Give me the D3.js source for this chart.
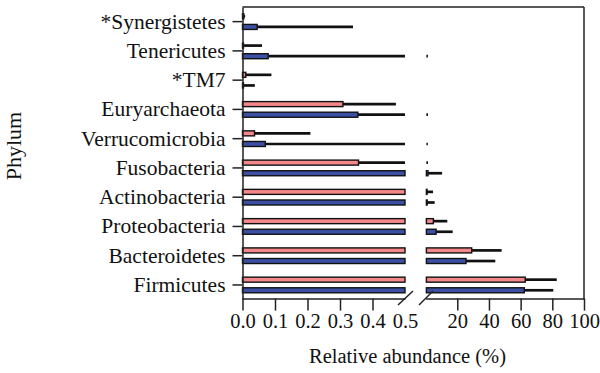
<!DOCTYPE html>
<html>
<head>
<meta charset="utf-8">
<script src="https://cdn.jsdelivr.net/npm/d3@7"></script>
<style>
  html, body { margin: 0; padding: 0; background: #fff; }
  svg text { font-family: "Liberation Serif", "DejaVu Serif", serif; fill: #111; }
</style>
</head>
<body>
<svg id="chart" width="600" height="373"></svg>
<script>
// ---- data (top to bottom) ----
const categories = ["*Synergistetes", "Tenericutes", "*TM7", "Euryarchaeota", "Verrucomicrobia",
                    "Fusobacteria", "Actinobacteria", "Proteobacteria", "Bacteroidetes", "Firmicutes"];
const series = ["groupA", "groupB"];
const seriesColors = ["#f4878a", "#3b50a4"];
const groupAMean = [0.004, 0.003, 0.010, 0.309, 0.037, 0.357, 0.9, 4.9, 29.1, 62.9];
const groupASd   = [0.004, 0.057, 0.079, 0.163, 0.172, 1.14, 3.8, 8.8, 18.9, 19.9];
const groupBMean = [0.045, 0.079, 0.003, 0.355, 0.070, 1.5, 1.0, 6.6, 25.5, 62.3];
const groupBSd   = [0.295, 1.4, 0.035, 1.15, 1.35, 8.9, 4.7, 10.5, 18.5, 18.3];
const leftTicks = [0, 0.1, 0.2, 0.3, 0.4, 0.5];
const rightTicks = [20, 40, 60, 80, 100];
const breakValue = 0.5;

const rows = [];
categories.forEach((c, i) => {
  rows.push({cat: c, s: series[0], mean: groupAMean[i], sd: groupASd[i], color: seriesColors[0]});
  rows.push({cat: c, s: series[1], mean: groupBMean[i], sd: groupBSd[i], color: seriesColors[1]});
});

const svg = d3.select("#chart");
const yTop = 7, yBottom = 299.6;
const xL = d3.scaleLinear().domain([0, breakValue]).range([242.5, 405]);
const xR = d3.scaleLinear().domain([0, 100]).range([425.6, 584]);
const y = d3.scaleBand().domain(categories).range([yTop, yBottom]);
const ySub = d3.scaleBand().domain(series).range([-11, 11]).paddingInner(0.528).paddingOuter(0.3);
const bh = ySub.bandwidth();
const yc = d => y(d.cat) + y.bandwidth() / 2 + ySub(d.s);

// bars, left panel
const gBars = svg.append("g");
gBars.selectAll("rect.left").data(rows).join("rect")
  .attr("class", "left")
  .attr("x", xL(0))
  .attr("y", d => yc(d))
  .attr("width", d => Math.max(0.6, xL(Math.min(d.mean, breakValue)) - xL(0)))
  .attr("height", bh)
  .attr("fill", d => d.color)
  .attr("stroke", "#111").attr("stroke-width", 1.4);

// bars, right panel
gBars.selectAll("rect.right").data(rows.filter(d => d.mean > breakValue)).join("rect")
  .attr("class", "right")
  .attr("x", xR(breakValue))
  .attr("y", d => yc(d))
  .attr("width", d => Math.max(0.6, xR(d.mean) - xR(breakValue)))
  .attr("height", bh)
  .attr("fill", d => d.color)
  .attr("stroke", "#111").attr("stroke-width", 1.4);

// error bars
const gErr = svg.append("g").attr("stroke", "#111").attr("stroke-width", 2.7);
rows.forEach(d => {
  const end = d.mean + d.sd;
  const cy = yc(d) + bh / 2;
  if (d.mean < breakValue) {
    gErr.append("line").attr("x1", xL(d.mean)).attr("x2", xL(Math.min(end, breakValue)))
      .attr("y1", cy).attr("y2", cy);
  }
  if (end > breakValue) {
    gErr.append("line").attr("x1", xR(Math.max(d.mean, breakValue))).attr("x2", xR(end))
      .attr("y1", cy).attr("y2", cy);
  }
});

// frame
const frame = svg.append("g").attr("stroke", "#222").attr("stroke-width", 1.5).attr("fill", "none");
frame.append("line").attr("x1", xL(0)).attr("x2", xR(100)).attr("y1", yTop).attr("y2", yTop);
frame.append("line").attr("x1", xR(100)).attr("x2", xR(100)).attr("y1", yTop).attr("y2", yBottom);

// axes
const axL = svg.append("g").attr("transform", `translate(0,${yBottom - 1})`)
  .call(d3.axisBottom(xL).tickValues(leftTicks).tickSize(12).tickSizeOuter(0).tickPadding(3)
    .tickFormat(d3.format(".1f")));
const axR = svg.append("g").attr("transform", `translate(0,${yBottom - 1})`)
  .call(d3.axisBottom(xR).tickValues(rightTicks).tickSize(12).tickSizeOuter(0).tickPadding(3));
axL.selectAll(".tick").filter(d => d === breakValue).select("line").remove();
const axY = svg.append("g").attr("transform", `translate(${xL(0)},0)`)
  .call(d3.axisLeft(y).tickSize(10).tickSizeOuter(0).tickPadding(7));
[axL, axR, axY].forEach(a => {
  a.selectAll("path, line").attr("stroke", "#222").attr("stroke-width", 1.5);
  a.selectAll("text").style("font-family", "'Liberation Serif', serif").attr("fill", "#111");
});
axL.selectAll("text").style("font-size", "20.5px");
axR.selectAll("text").style("font-size", "20.5px");
axY.selectAll("text").style("font-size", "21.5px");

// break marks
const gBreak = svg.append("g").attr("stroke", "#222").attr("stroke-width", 1.5);
gBreak.append("line").attr("x1", 398).attr("y1", 305).attr("x2", 413).attr("y2", 291);
gBreak.append("line").attr("x1", 419).attr("y1", 305).attr("x2", 433).attr("y2", 291);

// titles
svg.append("text").attr("x", 407.5).attr("y", 363).attr("text-anchor", "middle")
  .style("font-size", "20.5px").text("Relative abundance (%)");
svg.append("text").attr("transform", "translate(21,146) rotate(-90)").attr("text-anchor", "middle")
  .style("font-size", "22px").text("Phylum");
</script>
</body>
</html>
